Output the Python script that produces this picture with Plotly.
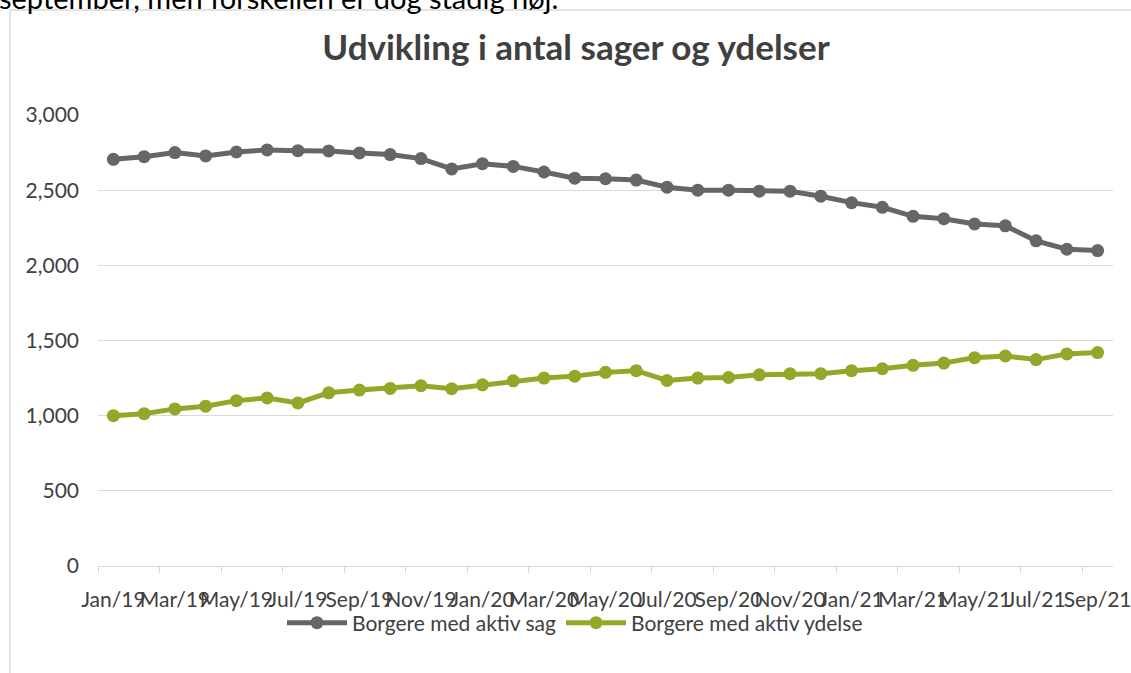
import plotly.graph_objects as go

months = ["Jan", "Feb", "Mar", "Apr", "May", "Jun", "Jul", "Aug", "Sep", "Oct", "Nov", "Dec"]
categories = [f"{m}/{y}" for y in ("19", "20", "21") for m in months][:33]

sager = [2705, 2723, 2750, 2728, 2754, 2768, 2763, 2761, 2748, 2737, 2710, 2641,
         2676, 2658, 2621, 2580, 2576, 2567, 2520, 2500, 2500, 2493, 2493, 2460,
         2417, 2386, 2326, 2310, 2275, 2263, 2163, 2107, 2098]
ydelser = [1000, 1013, 1045, 1063, 1100, 1118, 1085, 1152, 1170, 1181, 1199, 1179,
           1205, 1232, 1250, 1263, 1288, 1299, 1234, 1250, 1254, 1272, 1279, 1279,
           1299, 1312, 1335, 1350, 1386, 1397, 1373, 1411, 1420]

series_names = ["Borgere med aktiv sag", "Borgere med aktiv ydelse"]
colors = ["#666666", "#93a829"]
FONT = "Lato, Carlito, Calibri, sans-serif"
TXT = "#404040"

fig = go.Figure()
for name, vals, col in zip(series_names, [sager, ydelser], colors):
    fig.add_trace(go.Scatter(
        x=categories, y=vals, name=name, mode="lines+markers",
        line=dict(color=col, width=5),
        marker=dict(color=col, size=13),
    ))

fig.update_layout(
    width=1131, height=673,
    margin=dict(l=98, r=18, t=115, b=107, autoexpand=False),
    paper_bgcolor="white", plot_bgcolor="white",
    font=dict(family=FONT, size=21, color=TXT),
    title=dict(text="<b>Udvikling i antal sager og ydelser</b>",
               x=576 / 1131, xanchor="center", xref="container",
               y=1 - 48 / 673, yanchor="middle", yref="container",
               font=dict(size=35, color=TXT, family=FONT)),
    legend=dict(orientation="h", x=575 / 1131, xref="container", xanchor="center",
                y=1 - 623 / 673, yref="container", yanchor="middle",
                bgcolor="rgba(0,0,0,0)",
                font=dict(size=21, color=TXT), itemwidth=60, traceorder="normal"),
    showlegend=True,
)
fig.update_yaxes(range=[0, 3000], tickvals=[0, 500, 1000, 1500, 2000, 2500, 3000],
                 tickformat=",", showgrid=True, gridcolor="#d9d9d9", gridwidth=1.3,
                 zeroline=False, showline=False, ticklabelstandoff=18, automargin=False,
                 tickfont=dict(size=21, color=TXT))
fig.update_xaxes(type="category", range=[-0.5, len(categories) - 0.5],
                 tickangle=0, dtick=2, tickson="boundaries",
                 ticks="outside", ticklen=6, tickcolor="#d9d9d9",
                 showline=True, linecolor="#d9d9d9", linewidth=1.3,
                 showgrid=False, ticklabelstandoff=15, automargin=False,
                 tickfont=dict(size=21, color=TXT))

# chart frame
fig.add_shape(type="rect", xref="paper", yref="paper",
              x0=(10 - 98) / 1015, x1=1.05, y0=-0.3, y1=(566 - 10) / 451,
              line=dict(color="#d9d9d9", width=1.3), fillcolor="rgba(0,0,0,0)", layer="below")
# document text cut at top of the page
fig.add_annotation(text="september, men forskellen er dog stadig høj.",
                   xref="paper", yref="paper", x=(-3 - 98) / 1015, y=(566 + 2) / 451,
                   xanchor="left", yanchor="middle", showarrow=False,
                   font=dict(size=29, color="#000000", family=FONT))

fig.write_html("out.html", config={"displayModeBar": False},
               post_script="document.body.style.margin='0';")
